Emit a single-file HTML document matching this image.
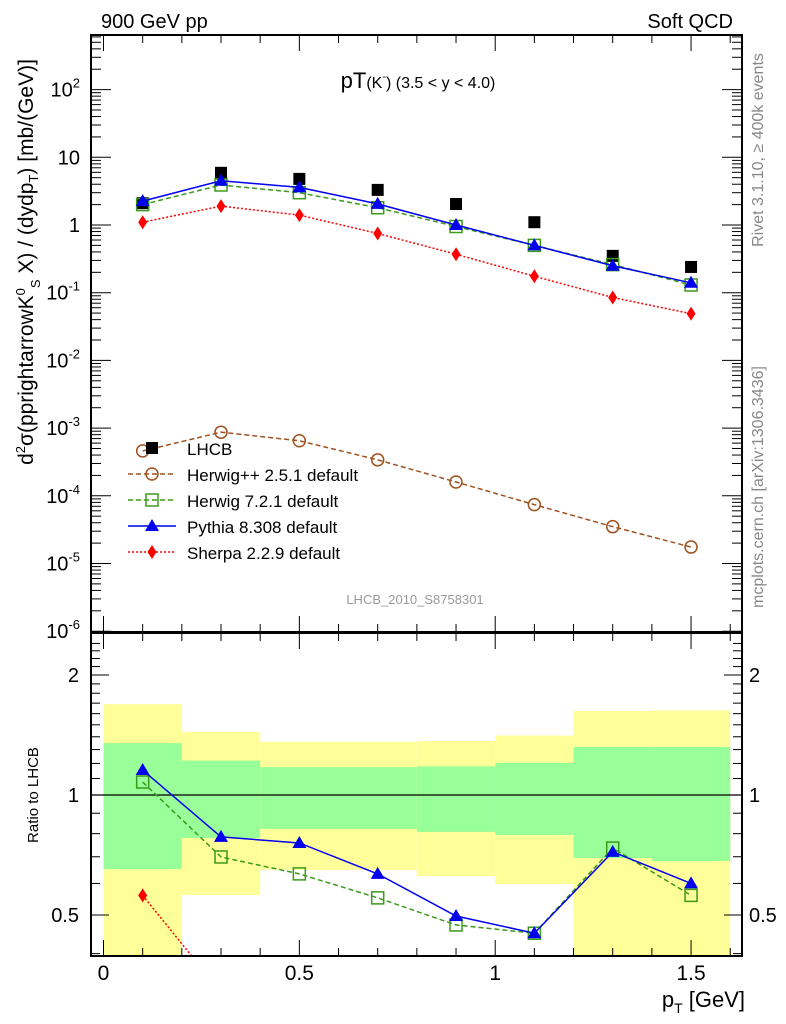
<!DOCTYPE html>
<html><head><meta charset="utf-8"><style>
html,body{margin:0;background:#fff;width:786px;height:1024px;overflow:hidden}
svg{display:block;font-family:"Liberation Sans",sans-serif}
</style></head><body>
<svg id="c" width="786" height="1024" viewBox="0 0 786 1024">
<text x="101" y="28" font-size="20">900 GeV pp</text>
<text x="733" y="28" font-size="20" text-anchor="end">Soft QCD</text>
<text x="418" y="88" font-size="22" text-anchor="middle">pT<tspan font-size="16">(K</tspan><tspan font-size="11" dy="-8">-</tspan><tspan font-size="16" dy="8">)</tspan><tspan font-size="16"> (3.5 &lt; y &lt; 4.0)</tspan></text>
<text x="415" y="604" font-size="13" fill="#999" text-anchor="middle">LHCB_2010_S8758301</text>
<text transform="translate(763,150) rotate(-90)" font-size="16" fill="#888" text-anchor="middle">Rivet 3.1.10, ≥ 400k events</text>
<text transform="translate(763,487) rotate(-90)" font-size="16" fill="#888" text-anchor="middle">mcplots.cern.ch [arXiv:1306.3436]</text>
<text transform="translate(33,262) rotate(-90)" font-size="21" text-anchor="middle">d<tspan font-size="13" dy="-8">2</tspan><tspan dy="8">σ(pprightarrowK</tspan><tspan font-size="13" dy="-8">0</tspan><tspan font-size="13" dy="15">S</tspan><tspan dy="-7"> X) / (dydp</tspan><tspan font-size="13" dy="5">T</tspan><tspan dy="-5">) [mb/(GeV)]</tspan></text>
<text transform="translate(38,795) rotate(-90)" font-size="15" text-anchor="middle">Ratio to LHCB</text>
<text x="745" y="1007" font-size="22" text-anchor="end">p<tspan font-size="14" dy="6">T</tspan><tspan dy="-6"> [GeV]</tspan></text>
<g id="g"></g>
</svg>
<script>
const xs=[0.1,0.3,0.5,0.7,0.9,1.1,1.3,1.5];
const binLo=[0,0.2,0.4,0.6,0.8,1.0,1.2,1.4];
const binHi=[0.2,0.4,0.6,0.8,1.0,1.2,1.4,1.6];
const lhcb=[2.1,5.9,4.8,3.3,2.04,1.1,0.35,0.24];
const herwigpp=[4.6e-4,8.7e-4,6.5e-4,3.4e-4,1.6e-4,7.4e-5,3.5e-5,1.75e-5];
const herwig7=[2.0,3.9,3.0,1.8,0.95,0.5,0.26,0.13];
const pythia=[2.25,4.5,3.6,2.05,1.0,0.5,0.25,0.14];
const sherpa=[1.1,1.9,1.4,0.75,0.37,0.175,0.085,0.049];
const yelLo=[0.3,0.561,0.649,0.649,0.626,0.598,0.3,0.3];
const yelHi=[1.69,1.44,1.36,1.36,1.366,1.41,1.625,1.63];
const grnLo=[0.652,0.78,0.822,0.822,0.808,0.794,0.695,0.683];
const grnHi=[1.35,1.22,1.175,1.175,1.18,1.203,1.32,1.32];
const rHerwig7=[1.078,0.699,0.634,0.552,0.472,0.45,0.736,0.56];
const rPythia=[1.155,0.785,0.758,0.634,0.497,0.45,0.72,0.6];
const rSherpa=[0.56,0.32,0.29,0.23,0.18,0.16,0.24,0.2];
const xTicks=[0,0.5,1,1.5];
const xTickLabels=["0","0.5","1","1.5"];

const NS="http://www.w3.org/2000/svg";
const g=document.getElementById('g');
const L=91,R=742,MT=35,MB=632,RT=633,RB=956;
const X=v=>103.5+391.7*v;
const Y=v=>225-67.7*Math.log10(v);
const YR=v=>795-398.6*Math.log10(v);
function el(t,a,p){const e=document.createElementNS(NS,t);for(const k in a)e.setAttribute(k,a[k]);(p||g).appendChild(e);return e;}

const defs=el('defs',{});
const cp1=el('clipPath',{id:'cm'},defs);el('rect',{x:L,y:MT,width:R-L,height:MB-MT},cp1);
const cp2=el('clipPath',{id:'cr'},defs);el('rect',{x:L,y:RT,width:R-L,height:RB-RT},cp2);
const mainG=el('g',{'clip-path':'url(#cm)'});


const ratG=el('g',{'clip-path':'url(#cr)'});



for(let i=0;i<xs.length;i++){
  const y1=el('rect',{x:X(binLo[i]),y:YR(yelHi[i]),width:X(binHi[i])-X(binLo[i]),height:YR(yelLo[i])-YR(yelHi[i]),fill:'#ffff99'},ratG);
  
  
  const g1=el('rect',{x:X(binLo[i]),y:YR(grnHi[i]),width:X(binHi[i])-X(binLo[i]),height:YR(grnLo[i])-YR(grnHi[i]),fill:'#99ff99'},ratG);
  
  
}
el('line',{x1:L,x2:R,y1:YR(1),y2:YR(1),stroke:'#000','stroke-width':1.2},ratG);

function marker(type,cx,cy,color,p){
  let m;
  if(type==='sq') m=el('rect',{x:cx-6,y:cy-6,width:12,height:12,fill:'#000'},p);
  else if(type==='osq') m=el('rect',{x:cx-6,y:cy-6,width:12,height:12,fill:'none',stroke:color,'stroke-width':1.5},p);
  else if(type==='oc') m=el('circle',{cx:cx,cy:cy,r:6,fill:'none',stroke:color,'stroke-width':1.5},p);
  else if(type==='tri') m=el('path',{d:`M${cx},${cy-7}L${cx+7},${cy+5}L${cx-7},${cy+5}Z`,fill:color},p);
  else m=el('path',{d:`M${cx},${cy-7}L${cx+4.5},${cy}L${cx},${cy+7}L${cx-4.5},${cy}Z`,fill:color},p);
  return m;
}
function series(vals,fy,color,dash,type,name,p,line){
  if(line){
    const pl=el('polyline',{points:vals.map((v,i)=>X(xs[i])+','+fy(v)).join(' '),fill:'none',stroke:color,'stroke-width':1.5,'stroke-dasharray':dash},p);
    
    
  }
  vals.forEach((v,i)=>{const m=marker(type,X(xs[i]),fy(v),color,p);
    
    });
}
series(lhcb,Y,'#000','', 'sq','lhcb',mainG,false);
series(herwigpp,Y,'#a0521e','5,3','oc','herwigpp',mainG,true);
series(herwig7,Y,'#3a9a1a','5,3','osq','herwig7',mainG,true);
series(sherpa,Y,'#ff0000','2,2','dia','sherpa',mainG,true);
series(pythia,Y,'#0000ee','','tri','pythia',mainG,true);

(function(){
  const pl=el('polyline',{points:rSherpa.map((v,i)=>X(xs[i])+','+YR(v)).join(' '),fill:'none',stroke:'#ff0000','stroke-width':1.5,'stroke-dasharray':'2,2'},ratG);
  
  
  rSherpa.forEach((v,i)=>{if(YR(v)<RB){const m=marker('dia',X(xs[i]),YR(v),'#ff0000',ratG);
    
    }});
})();
series(rHerwig7,YR,'#3a9a1a','5,3','osq','herwig7-ratio',ratG,true);
series(rPythia,YR,'#0000ee','','tri','pythia-ratio',ratG,true);

el('rect',{x:L,y:MT,width:R-L,height:MB-MT,fill:'none',stroke:'#000','stroke-width':2});
el('rect',{x:L,y:RT,width:R-L,height:RB-RT,fill:'none',stroke:'#000','stroke-width':2});

for(let k=0;k<=16;k++){
  const v=k*0.1,x=X(v),big=(k%5===0);
  const h=big?16:8;
  [[MB,-1],[RT,1],[RB,-1],[MT,1]].forEach(([y0,d])=>el('line',{x1:x,x2:x,y1:y0,y2:y0+d*h,stroke:'#000','stroke-width':1}));
}
xTicks.forEach((v,i)=>{const t=el('text',{x:X(v),y:980,'font-size':21,'text-anchor':'middle'});t.textContent=xTickLabels[i];
  
  });

for(let e=-6;e<=2;e++){
  const y=Y(Math.pow(10,e));
  el('line',{x1:L,x2:L+20,y1:y,y2:y,stroke:'#000'});
  el('line',{x1:R,x2:R-20,y1:y,y2:y,stroke:'#000'});
  for(let m=2;m<=9;m++){const ym=Y(m*Math.pow(10,e));if(ym<MT)continue;
    el('line',{x1:L,x2:L+10,y1:ym,y2:ym,stroke:'#000'});el('line',{x1:R,x2:R-10,y1:ym,y2:ym,stroke:'#000'});}
  const t=el('text',{x:80,y:y+7,'font-size':20,'text-anchor':'end'});
  if(e===0)t.textContent='1';else if(e===1)t.textContent='10';
  else{t.textContent='10';const s=el('tspan',{dy:-9,'font-size':13},t);s.textContent=String(e);}
  
  
}
for(let v=0.4;v<=2.5;v+=0.1){const y=YR(v);if(y<RT||y>RB)continue;
  const big=Math.abs(v-0.5)<1e-6||Math.abs(v-1)<1e-6||Math.abs(v-2)<1e-6;const h=big?18:9;
  el('line',{x1:L,x2:L+h,y1:y,y2:y,stroke:'#000'});el('line',{x1:R,x2:R-h,y1:y,y2:y,stroke:'#000'});}
[[2,'2'],[1,'1'],[0.5,'0.5']].forEach(([v,s])=>{
  const a=el('text',{x:79,y:YR(v)+7,'font-size':20,'text-anchor':'end'});a.textContent=s;
  
  
  const b=el('text',{x:749,y:YR(v)+7,'font-size':20});b.textContent=s;
  
  
});

const leg=[['LHCB','sq','#000','',false],['Herwig++ 2.5.1 default','oc','#a0521e','5,3',true],['Herwig 7.2.1 default','osq','#3a9a1a','5,3',true],['Pythia 8.308 default','tri','#0000ee','',true],['Sherpa 2.2.9 default','dia','#ff0000','2,2',true]];
leg.forEach((l,i)=>{const y=448+26*i;
  const lg=el('g',{});
  
  
  if(l[4])el('line',{x1:128,x2:176,y1:y,y2:y,stroke:l[2],'stroke-width':1.5,'stroke-dasharray':l[3]},lg);
  marker(l[1],152,y,l[2],lg);
  const t=el('text',{x:187,y:y+7,'font-size':17},lg);t.textContent=l[0];
});
</script>
</body></html>
